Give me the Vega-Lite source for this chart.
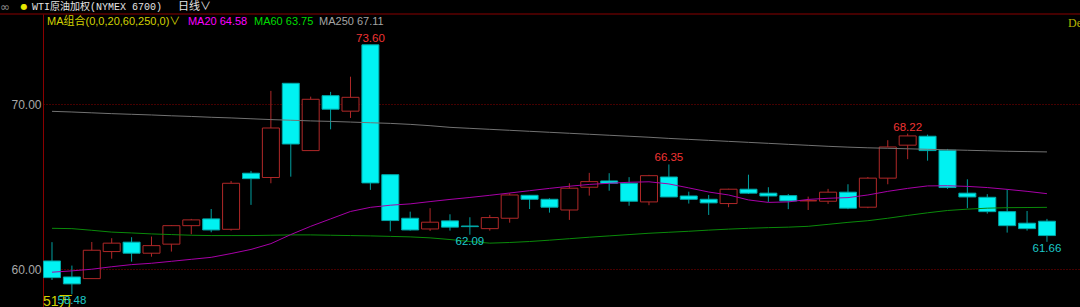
{
  "$schema": "https://vega.github.io/schema/vega-lite/v6.json",
  "description": "WTI crude oil continuous contract, daily candlesticks with MA20, MA60 and MA250",
  "autosize": "none",
  "width": 1037,
  "height": 293,
  "padding": {"left": 43, "top": 14, "right": 0, "bottom": 0},
  "background": "#000000",
  "config": {
    "view": {"stroke": null},
    "text": {"font": "Liberation Sans, Noto Sans CJK SC"},
    "axisX": {"disable": true}
  },
  "datasets": {
    "k": [
      {"i": 1, "o": 60.50, "h": 61.64, "l": 59.35, "c": 59.49, "ma20": 59.82, "ma60": 62.48, "ma250": 69.57},
      {"i": 2, "o": 59.53, "h": 60.22, "l": 58.48, "c": 59.11, "ma20": 59.90, "ma60": 62.46, "ma250": 69.53},
      {"i": 3, "o": 59.43, "h": 61.65, "l": 59.43, "c": 61.15, "ma20": 60.00, "ma60": 62.36, "ma250": 69.48},
      {"i": 4, "o": 61.07, "h": 61.88, "l": 60.64, "c": 61.58, "ma20": 60.15, "ma60": 62.25, "ma250": 69.43},
      {"i": 5, "o": 61.64, "h": 61.94, "l": 60.46, "c": 60.97, "ma20": 60.28, "ma60": 62.20, "ma250": 69.39},
      {"i": 6, "o": 60.97, "h": 61.98, "l": 60.76, "c": 61.43, "ma20": 60.36, "ma60": 62.14, "ma250": 69.35},
      {"i": 7, "o": 61.52, "h": 62.68, "l": 61.07, "c": 62.64, "ma20": 60.48, "ma60": 62.10, "ma250": 69.30},
      {"i": 8, "o": 62.64, "h": 63.05, "l": 62.12, "c": 62.99, "ma20": 60.60, "ma60": 62.06, "ma250": 69.26},
      {"i": 9, "o": 63.05, "h": 63.65, "l": 62.24, "c": 62.38, "ma20": 60.72, "ma60": 62.04, "ma250": 69.21},
      {"i": 10, "o": 62.42, "h": 65.35, "l": 62.34, "c": 65.21, "ma20": 60.95, "ma60": 62.04, "ma250": 69.17},
      {"i": 11, "o": 65.82, "h": 65.96, "l": 63.90, "c": 65.49, "ma20": 61.20, "ma60": 62.04, "ma250": 69.12},
      {"i": 12, "o": 65.56, "h": 70.81, "l": 65.21, "c": 68.56, "ma20": 61.55, "ma60": 62.06, "ma250": 69.07},
      {"i": 13, "o": 71.27, "h": 71.27, "l": 65.61, "c": 67.59, "ma20": 62.10, "ma60": 62.08, "ma250": 69.03},
      {"i": 14, "o": 67.19, "h": 70.46, "l": 67.19, "c": 70.30, "ma20": 62.60, "ma60": 62.08, "ma250": 68.99},
      {"i": 15, "o": 70.52, "h": 70.75, "l": 68.48, "c": 69.70, "ma20": 63.05, "ma60": 62.06, "ma250": 68.96},
      {"i": 16, "o": 69.58, "h": 71.67, "l": 69.17, "c": 70.42, "ma20": 63.50, "ma60": 62.04, "ma250": 68.92},
      {"i": 17, "o": 73.60, "h": 73.60, "l": 64.81, "c": 65.23, "ma20": 63.75, "ma60": 62.02, "ma250": 68.88},
      {"i": 18, "o": 65.73, "h": 65.73, "l": 62.30, "c": 62.95, "ma20": 63.88, "ma60": 61.99, "ma250": 68.84},
      {"i": 19, "o": 63.09, "h": 63.49, "l": 62.34, "c": 62.38, "ma20": 63.96, "ma60": 61.96, "ma250": 68.78},
      {"i": 20, "o": 62.44, "h": 63.70, "l": 62.32, "c": 62.85, "ma20": 64.10, "ma60": 61.90, "ma250": 68.70},
      {"i": 21, "o": 62.93, "h": 63.33, "l": 62.34, "c": 62.55, "ma20": 64.23, "ma60": 61.80, "ma250": 68.60},
      {"i": 22, "o": 62.62, "h": 63.15, "l": 62.09, "c": 62.58, "ma20": 64.35, "ma60": 61.68, "ma250": 68.54},
      {"i": 23, "o": 62.46, "h": 63.29, "l": 62.34, "c": 63.13, "ma20": 64.48, "ma60": 61.58, "ma250": 68.48},
      {"i": 24, "o": 63.09, "h": 64.61, "l": 62.82, "c": 64.50, "ma20": 64.62, "ma60": 61.62, "ma250": 68.42},
      {"i": 25, "o": 64.48, "h": 64.48, "l": 63.65, "c": 64.24, "ma20": 64.76, "ma60": 61.68, "ma250": 68.36},
      {"i": 26, "o": 64.24, "h": 64.30, "l": 63.43, "c": 63.76, "ma20": 64.90, "ma60": 61.76, "ma250": 68.30},
      {"i": 27, "o": 63.59, "h": 65.21, "l": 62.99, "c": 64.91, "ma20": 65.03, "ma60": 61.85, "ma250": 68.24},
      {"i": 28, "o": 64.97, "h": 65.84, "l": 64.46, "c": 65.31, "ma20": 65.14, "ma60": 61.94, "ma250": 68.18},
      {"i": 29, "o": 65.35, "h": 65.82, "l": 64.76, "c": 65.21, "ma20": 65.21, "ma60": 62.02, "ma250": 68.12},
      {"i": 30, "o": 65.21, "h": 65.58, "l": 63.85, "c": 64.12, "ma20": 65.27, "ma60": 62.10, "ma250": 68.06},
      {"i": 31, "o": 64.08, "h": 65.72, "l": 63.88, "c": 65.67, "ma20": 65.30, "ma60": 62.18, "ma250": 68.00},
      {"i": 32, "o": 65.59, "h": 66.35, "l": 64.38, "c": 64.38, "ma20": 65.17, "ma60": 62.24, "ma250": 67.93},
      {"i": 33, "o": 64.44, "h": 64.70, "l": 63.98, "c": 64.24, "ma20": 64.93, "ma60": 62.30, "ma250": 67.87},
      {"i": 34, "o": 64.24, "h": 64.50, "l": 63.29, "c": 64.02, "ma20": 64.68, "ma60": 62.37, "ma250": 67.81},
      {"i": 35, "o": 63.98, "h": 64.88, "l": 63.76, "c": 64.85, "ma20": 64.50, "ma60": 62.43, "ma250": 67.75},
      {"i": 36, "o": 64.85, "h": 65.73, "l": 64.56, "c": 64.61, "ma20": 64.20, "ma60": 62.48, "ma250": 67.69},
      {"i": 37, "o": 64.61, "h": 64.97, "l": 64.08, "c": 64.44, "ma20": 64.05, "ma60": 62.52, "ma250": 67.63},
      {"i": 38, "o": 64.46, "h": 64.56, "l": 63.64, "c": 64.14, "ma20": 64.08, "ma60": 62.55, "ma250": 67.57},
      {"i": 39, "o": 64.14, "h": 64.40, "l": 63.59, "c": 64.16, "ma20": 64.23, "ma60": 62.60, "ma250": 67.51},
      {"i": 40, "o": 64.12, "h": 64.87, "l": 63.96, "c": 64.67, "ma20": 64.30, "ma60": 62.72, "ma250": 67.45},
      {"i": 41, "o": 64.67, "h": 65.15, "l": 63.64, "c": 63.70, "ma20": 64.34, "ma60": 62.84, "ma250": 67.40},
      {"i": 42, "o": 63.76, "h": 65.59, "l": 63.70, "c": 65.52, "ma20": 64.50, "ma60": 62.94, "ma250": 67.36},
      {"i": 43, "o": 65.52, "h": 67.82, "l": 65.15, "c": 67.41, "ma20": 64.72, "ma60": 63.09, "ma250": 67.33},
      {"i": 44, "o": 67.52, "h": 68.22, "l": 66.67, "c": 68.08, "ma20": 64.90, "ma60": 63.26, "ma250": 67.30},
      {"i": 45, "o": 68.06, "h": 68.16, "l": 66.58, "c": 67.19, "ma20": 65.05, "ma60": 63.42, "ma250": 67.27},
      {"i": 46, "o": 67.21, "h": 67.29, "l": 64.87, "c": 64.95, "ma20": 65.06, "ma60": 63.56, "ma250": 67.24},
      {"i": 47, "o": 64.61, "h": 65.45, "l": 63.70, "c": 64.38, "ma20": 65.02, "ma60": 63.64, "ma250": 67.21},
      {"i": 48, "o": 64.36, "h": 64.55, "l": 63.37, "c": 63.49, "ma20": 64.95, "ma60": 63.70, "ma250": 67.18},
      {"i": 49, "o": 63.49, "h": 64.85, "l": 62.22, "c": 62.64, "ma20": 64.84, "ma60": 63.73, "ma250": 67.15},
      {"i": 50, "o": 62.79, "h": 63.53, "l": 62.34, "c": 62.46, "ma20": 64.72, "ma60": 63.74, "ma250": 67.13},
      {"i": 51, "o": 62.91, "h": 63.05, "l": 61.66, "c": 62.04, "ma20": 64.58, "ma60": 63.75, "ma250": 67.11}
    ]
  },
  "layer": [
    {
      "data": {"name": "k"},
      "mark": {"type": "rule", "strokeWidth": 1},
      "encoding": {
        "x": {"field": "i", "type": "quantitative", "scale": {"domain": [0.548, 52.66], "nice": false, "zero": false, "padding": 0}},
        "y": {
          "field": "l", "type": "quantitative",
          "scale": {"domain": [57.71, 75.47], "nice": false, "zero": false, "padding": 0},
          "axis": {
            "values": [60, 70], "format": ".2f", "title": null,
            "grid": true, "gridColor": "#8a0000", "gridDash": [1, 2], "gridOpacity": 1, "gridWidth": 1,
            "domain": true, "domainColor": "#8a0000", "domainWidth": 1, "ticks": false,
            "labelColor": "#a8a8a8", "labelFont": "Liberation Sans", "labelFontSize": 12, "labelPadding": 2
          }
        },
        "y2": {"field": "h"},
        "color": {"condition": {"test": "datum.c >= datum.o", "value": "#b02828"}, "value": "#00a0a0"}
      }
    },
    {
      "data": {"name": "k"},
      "mark": {"type": "bar", "width": 17, "strokeWidth": 1},
      "encoding": {
        "x": {"field": "i", "type": "quantitative"},
        "y": {"field": "o", "type": "quantitative"},
        "y2": {"field": "c"},
        "fill": {"condition": {"test": "datum.c >= datum.o", "value": "#000000"}, "value": "#00f2f2"},
        "stroke": {"condition": {"test": "datum.c >= datum.o", "value": "#b02828"}, "value": "#00a8a8"}
      }
    },
    {
      "data": {"name": "k"},
      "mark": {"type": "line", "strokeWidth": 1, "color": "#727272"},
      "encoding": {
        "x": {"field": "i", "type": "quantitative"},
        "y": {"field": "ma250", "type": "quantitative"}
      }
    },
    {
      "data": {"name": "k"},
      "mark": {"type": "line", "strokeWidth": 1, "color": "#0a8a0a"},
      "encoding": {
        "x": {"field": "i", "type": "quantitative"},
        "y": {"field": "ma60", "type": "quantitative"}
      }
    },
    {
      "data": {"name": "k"},
      "mark": {"type": "line", "strokeWidth": 1, "color": "#a800a8"},
      "encoding": {
        "x": {"field": "i", "type": "quantitative"},
        "y": {"field": "ma20", "type": "quantitative"}
      }
    },
    {
      "data": {"values": [{}]},
      "mark": {"type": "text", "text": "51万", "align": "left", "baseline": "top", "fontSize": 14, "color": "#d2d200"},
      "encoding": {
        "x": {"datum": 0.548, "type": "quantitative"},
        "y": {"datum": 58.45, "type": "quantitative"}
      }
    },
    {
      "data": {"name": "k"},
      "transform": [{"filter": "datum.i == 17 || datum.i == 32 || datum.i == 44"}],
      "mark": {"type": "text", "baseline": "alphabetic", "align": "center", "dy": -3, "fontSize": 11.5, "color": "#f03434"},
      "encoding": {
        "x": {"field": "i", "type": "quantitative"},
        "y": {"field": "h", "type": "quantitative"},
        "text": {"field": "h", "type": "quantitative", "format": ".2f"}
      }
    },
    {
      "data": {"name": "k"},
      "transform": [{"filter": "datum.i == 2 || datum.i == 22 || datum.i == 51"}],
      "mark": {"type": "text", "baseline": "top", "align": "center", "dy": 1, "fontSize": 11.5, "color": "#1cc8c8"},
      "encoding": {
        "x": {"field": "i", "type": "quantitative"},
        "y": {"field": "l", "type": "quantitative"},
        "text": {"field": "l", "type": "quantitative", "format": ".2f"}
      }
    },
    {
      "data": {"values": [{}]},
      "mark": {"type": "rule", "color": "#8a0000", "strokeWidth": 1},
      "encoding": {
        "x": {"datum": -1.7, "type": "quantitative"},
        "x2": {"datum": 53.2},
        "y": {"datum": 75.47, "type": "quantitative"}
      }
    },
    {
      "data": {"values": [{}]},
      "mark": {"type": "text", "text": "∞", "align": "left", "baseline": "middle", "fontSize": 12, "font": "DejaVu Sans", "color": "#8c8c8c"},
      "encoding": {
        "x": {"datum": -1.61, "type": "quantitative"},
        "y": {"datum": 75.9, "type": "quantitative"}
      }
    },
    {
      "data": {"values": [{}]},
      "mark": {"type": "text", "text": "●", "align": "center", "baseline": "middle", "fontSize": 8, "font": "DejaVu Sans", "color": "#e6e600"},
      "encoding": {
        "x": {"datum": -0.41, "type": "quantitative"},
        "y": {"datum": 75.9, "type": "quantitative"}
      }
    },
    {
      "data": {"values": [{}]},
      "mark": {"type": "text", "text": "WTI原油加权(NYMEX 6700)", "align": "left", "baseline": "middle", "fontSize": 10, "font": "Liberation Mono, Noto Sans CJK SC", "color": "#e4e4e4"},
      "encoding": {
        "x": {"datum": 0.0, "type": "quantitative"},
        "y": {"datum": 75.9, "type": "quantitative"}
      }
    },
    {
      "data": {"values": [{}]},
      "mark": {"type": "text", "text": "日线∨", "align": "left", "baseline": "middle", "fontSize": 11, "font": "Noto Sans CJK SC", "color": "#e4e4e4"},
      "encoding": {
        "x": {"datum": 7.33, "type": "quantitative"},
        "y": {"datum": 75.88, "type": "quantitative"}
      }
    },
    {
      "data": {"values": [{}]},
      "mark": {"type": "text", "text": "MA组合(0,0,20,60,250,0)∨", "align": "left", "baseline": "middle", "fontSize": 11, "color": "#d2d200"},
      "encoding": {
        "x": {"datum": 0.75, "type": "quantitative"},
        "y": {"datum": 74.96, "type": "quantitative"}
      }
    },
    {
      "data": {"values": [{}]},
      "mark": {"type": "text", "text": "MA20 64.58", "align": "left", "baseline": "middle", "fontSize": 11, "color": "#ff00ff"},
      "encoding": {
        "x": {"datum": 7.83, "type": "quantitative"},
        "y": {"datum": 74.96, "type": "quantitative"}
      }
    },
    {
      "data": {"values": [{}]},
      "mark": {"type": "text", "text": "MA60 63.75", "align": "left", "baseline": "middle", "fontSize": 11, "color": "#00dc00"},
      "encoding": {
        "x": {"datum": 11.15, "type": "quantitative"},
        "y": {"datum": 74.96, "type": "quantitative"}
      }
    },
    {
      "data": {"values": [{}]},
      "mark": {"type": "text", "text": "MA250 67.11", "align": "left", "baseline": "middle", "fontSize": 11, "color": "#a4a4a4"},
      "encoding": {
        "x": {"datum": 14.42, "type": "quantitative"},
        "y": {"datum": 74.96, "type": "quantitative"}
      }
    },
    {
      "data": {"values": [{}]},
      "mark": {"type": "text", "text": "De", "align": "left", "baseline": "middle", "fontSize": 12, "font": "Liberation Serif", "color": "#b4b400"},
      "encoding": {
        "x": {"datum": 52.06, "type": "quantitative"},
        "y": {"datum": 74.93, "type": "quantitative"}
      }
    }
  ]
}
